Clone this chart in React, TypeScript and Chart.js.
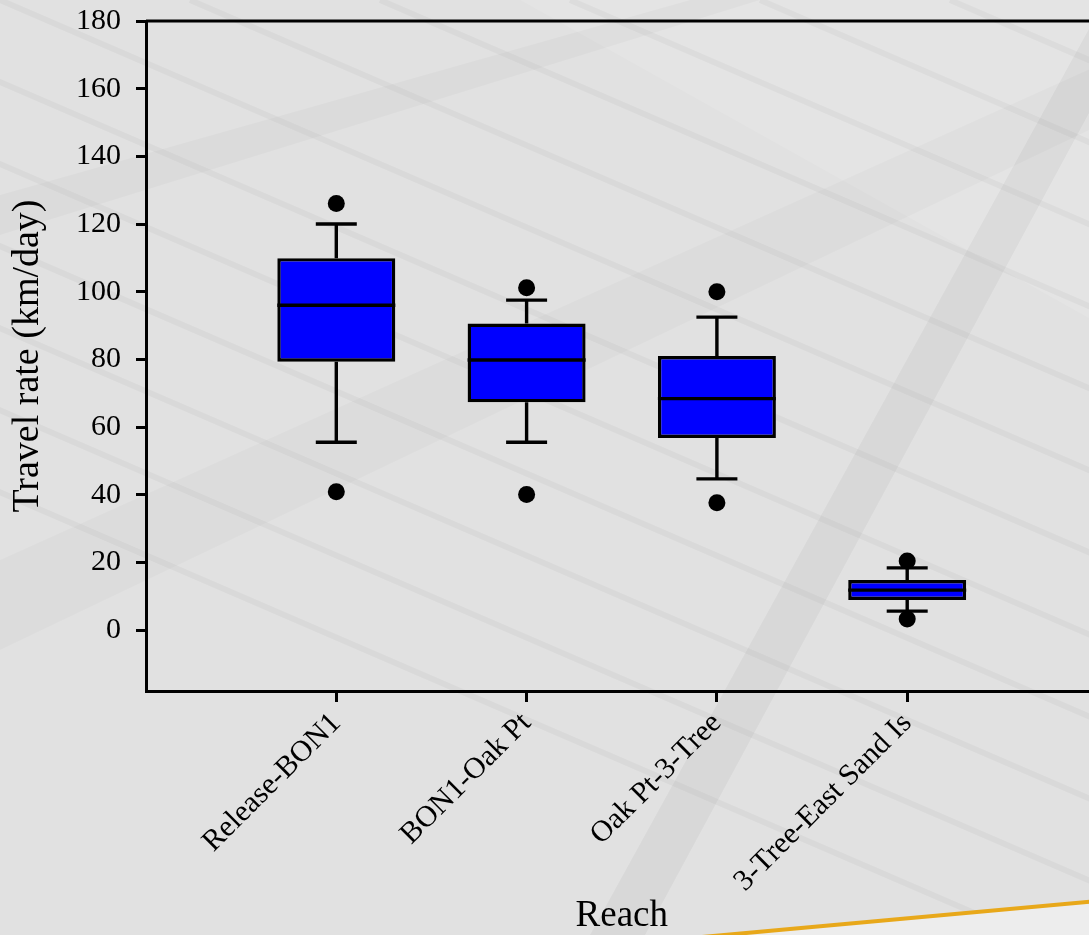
import React, { useEffect, useRef } from "react";
import { Chart, registerables } from "chart.js";

Chart.register(...registerables);

// ---- data ----
const categories = ["Release-BON1", "BON1-Oak Pt", "Oak Pt-3-Tree", "3-Tree-East Sand Is"];
const q1 = [79.3, 67.3, 56.8, 8.9];
const medians = [96.0, 79.8, 68.4, 11.8];
const q3 = [109.9, 90.6, 81.0, 14.8];
const whiskerLow = [55.5, 55.5, 44.7, 5.6];
const whiskerHigh = [120.0, 97.5, 92.5, 18.4];
const outlierLow = [40.9, 40.1, 37.6, 3.3];
const outlierHigh = [126.1, 101.2, 100.0, 20.4];
const yTickValues = [0, 20, 40, 60, 80, 100, 120, 140, 160, 180];

const FONT = "'Liberation Serif', 'Times New Roman', serif";
const LINE_W = 3.4;

const backgroundPlugin = {
  id: "bgPlugin",
  beforeDraw(chart: any) {
    const { ctx, width, height } = chart;
    ctx.save();
    ctx.fillStyle = "#e1e1e1";
    ctx.fillRect(0, 0, width, height);
    const band = (pts: number[][], color: string) => {
      ctx.fillStyle = color;
      ctx.beginPath();
      ctx.moveTo(pts[0][0], pts[0][1]);
      for (let i = 1; i < pts.length; i++) ctx.lineTo(pts[i][0], pts[i][1]);
      ctx.closePath();
      ctx.fill();
    };
    // lighter tiles and darker perspective bands (decoration)
    band([[0, 0], [520, 0], [1110, 330], [1110, 0]], "rgba(255,255,255,0.10)");
    band([[590, 935], [645, 935], [1150, 0], [1105, 0]], "rgba(0,0,0,0.04)");
    band([[0, 195], [0, 235], [760, 0], [690, 0]], "rgba(0,0,0,0.025)");
    band([[0, 560], [0, 650], [1110, 120], [1110, 60]], "rgba(0,0,0,0.02)");
    ctx.strokeStyle = "rgba(0,0,0,0.03)";
    ctx.lineWidth = 6;
    for (let k = -6; k < 8; k++) {
      const x0 = k * 190;
      ctx.beginPath();
      ctx.moveTo(x0, 0);
      ctx.lineTo(x0 + 2200, 950);
      ctx.stroke();
    }
    // lighter region and orange swoosh at bottom right
    ctx.fillStyle = "#ededed";
    ctx.beginPath();
    ctx.moveTo(680, 940);
    ctx.lineTo(1110, 900);
    ctx.lineTo(1110, 940);
    ctx.closePath();
    ctx.fill();
    ctx.strokeStyle = "#e8a81a";
    ctx.lineWidth = 4;
    ctx.beginPath();
    ctx.moveTo(680, 939);
    ctx.lineTo(1110, 900);
    ctx.stroke();
    ctx.restore();
  },
};

const boxPlugin = {
  id: "boxPlugin",
  beforeDatasetsDraw(chart: any) {
    const { ctx, chartArea, scales } = chart;
    ctx.save();
    ctx.strokeStyle = "#000";
    ctx.lineWidth = 3;
    // top and right frame
    ctx.beginPath();
    ctx.moveTo(chartArea.left, chartArea.top);
    ctx.lineTo(chartArea.right, chartArea.top);
    ctx.lineTo(chartArea.right, chartArea.bottom);
    ctx.stroke();
    // whiskers and caps
    ctx.lineWidth = LINE_W;
    const capHalf = 20.5;
    categories.forEach((_, i) => {
      const x = scales.x.getPixelForValue(i + 1);
      const yHi = scales.y.getPixelForValue(whiskerHigh[i]);
      const yQ3 = scales.y.getPixelForValue(q3[i]);
      const yQ1 = scales.y.getPixelForValue(q1[i]);
      const yLo = scales.y.getPixelForValue(whiskerLow[i]);
      ctx.beginPath();
      ctx.moveTo(x, yQ3);
      ctx.lineTo(x, yHi);
      ctx.moveTo(x - capHalf, yHi);
      ctx.lineTo(x + capHalf, yHi);
      ctx.moveTo(x, yQ1);
      ctx.lineTo(x, yLo);
      ctx.moveTo(x - capHalf, yLo);
      ctx.lineTo(x + capHalf, yLo);
      ctx.stroke();
    });
    ctx.restore();
  },
  afterDatasetDraw(chart: any, args: any) {
    if (args.meta.type !== "bar") return;
    const { ctx, scales } = chart;
    ctx.save();
    ctx.strokeStyle = "#000";
    ctx.lineWidth = LINE_W;
    args.meta.data.forEach((bar: any, i: number) => {
      const y = scales.y.getPixelForValue(medians[i]);
      ctx.beginPath();
      ctx.moveTo(bar.x - bar.width / 2, y);
      ctx.lineTo(bar.x + bar.width / 2, y);
      ctx.stroke();
    });
    ctx.restore();
  },
};

export default function App() {
  const ref = useRef<HTMLCanvasElement>(null);
  useEffect(() => {
    const canvas = ref.current;
    if (!canvas) return;
    const boxes = categories.map((_, i) => ({ x: i + 1, y: [q1[i], q3[i]] }));
    const outliers = [
      ...outlierHigh.map((v, i) => ({ x: i + 1, y: v })),
      ...outlierLow.map((v, i) => ({ x: i + 1, y: v })),
    ];
    const chart = new Chart(canvas, {
      type: "bar",
      data: {
        datasets: [
          {
            type: "scatter",
            data: outliers,
            backgroundColor: "#000",
            borderColor: "#000",
            borderWidth: 0,
            pointRadius: 8.5,
            order: 0,
          } as any,
          {
            type: "bar",
            data: boxes as any,
            backgroundColor: "#0000ff",
            borderColor: "#000",
            borderWidth: LINE_W,
            borderSkipped: false,
            barPercentage: 0.62,
            categoryPercentage: 1,
            order: 1,
          } as any,
        ],
      },
      options: {
        responsive: false,
        animation: false,
        devicePixelRatio: 1,
        layout: { padding: { top: 21, right: 2, left: 0, bottom: 0 } },
        plugins: { legend: { display: false }, tooltip: { enabled: false } },
        scales: {
          x: {
            type: "linear",
            min: 0,
            max: 5,
            offset: false,
            afterBuildTicks: (s: any) => {
              s.ticks = categories.map((_, i) => ({ value: i + 1 }));
            },
            afterFit: (s: any) => {
              s.height = 244;
            },
            ticks: {
              autoSkip: false,
              minRotation: 45,
              maxRotation: 45,
              color: "#000",
              padding: 6,
              font: { family: FONT, size: 30, lineHeight: 1 },
              callback: (v: any) => categories[Number(v) - 1] ?? "",
            },
            grid: { offset: false, drawOnChartArea: false, drawTicks: true, tickLength: 11, color: "#000", lineWidth: 3 },
            border: { color: "#000", width: 3 },
            title: {
              display: true,
              text: "Reach",
              color: "#000",
              font: { family: FONT, size: 37, lineHeight: 1 },
              padding: { top: 0, bottom: 0 },
            },
          },
          y: {
            type: "linear",
            min: -18,
            max: 180,
            afterBuildTicks: (s: any) => {
              s.ticks = yTickValues.map((v) => ({ value: v }));
            },
            afterFit: (s: any) => {
              s.width = 146;
            },
            ticks: {
              color: "#000",
              padding: 15,
              font: { family: FONT, size: 30, lineHeight: 0.3 },
            },
            grid: { drawOnChartArea: false, drawTicks: true, tickLength: 10, color: "#000", lineWidth: 3 },
            border: { color: "#000", width: 3 },
            title: {
              display: true,
              text: "Travel rate (km/day)",
              color: "#000",
              font: { family: FONT, size: 38, lineHeight: 1 },
              padding: { top: 9, bottom: 0 },
            },
          },
        },
      },
      plugins: [backgroundPlugin, boxPlugin],
    });
    return () => chart.destroy();
  }, []);

  return (
    <div style={{ position: "fixed", left: 0, top: 0, width: 1089, height: 935, overflow: "hidden", background: "#e1e1e1" }}>
      <canvas ref={ref} width={1106} height={935} style={{ display: "block" }} />
    </div>
  );
}
